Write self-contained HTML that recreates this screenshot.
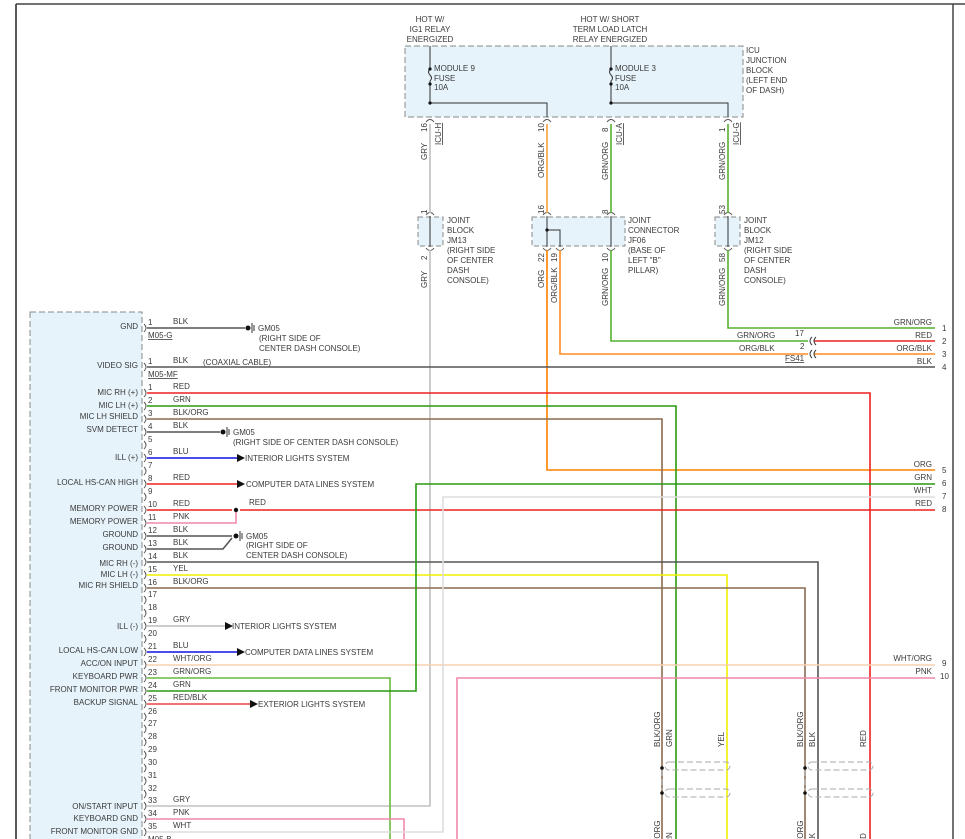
<!DOCTYPE html>
<html><head><meta charset="utf-8"><style>
html,body{margin:0;padding:0;background:#fff;}
svg{display:block;}
text{font-family:"Liberation Sans",sans-serif;font-size:8px;fill:#3a3a3a;}
.r{text-anchor:end;}
.m{text-anchor:middle;}
.w{fill:none;stroke-width:1.6;}
</style></head><body>
<svg width="965" height="839" viewBox="0 0 965 839" xmlns="http://www.w3.org/2000/svg">
<line x1="16" y1="4" x2="16" y2="839" stroke="#222" stroke-width="1.5"/>
<line x1="16" y1="4" x2="965" y2="4" stroke="#444" stroke-width="1.5"/>
<line x1="953" y1="4" x2="953" y2="839" stroke="#444" stroke-width="1.5"/>

<rect x="405" y="46" width="338" height="71" fill="#e6f3fb" stroke="#888" stroke-dasharray="6,3"/>
<text class="m" x="430" y="22">HOT W/</text>
<text class="m" x="430" y="32">IG1 RELAY</text>
<text class="m" x="430" y="42">ENERGIZED</text>
<text class="m" x="610" y="22">HOT W/ SHORT</text>
<text class="m" x="610" y="32">TERM LOAD LATCH</text>
<text class="m" x="610" y="42">RELAY ENERGIZED</text>
<text x="746" y="53">ICU</text><text x="746" y="63">JUNCTION</text><text x="746" y="73">BLOCK</text><text x="746" y="83">(LEFT END</text><text x="746" y="93">OF DASH)</text>
<g stroke="#333" fill="none" stroke-width="1">
<path d="M430,46 V69 q-3,3 0,6 q3,3 0,6 V103 H547 V117"/>
<path d="M611,46 V69 q-3,3 0,6 q3,3 0,6 V103 H728 V117"/>
</g>
<g fill="#111"><circle cx="430" cy="69" r="1.6"/><circle cx="430" cy="84" r="1.6"/><circle cx="430" cy="103" r="1.6"/><circle cx="611" cy="69" r="1.6"/><circle cx="611" cy="84" r="1.6"/><circle cx="611" cy="103" r="1.6"/></g>
<text x="434" y="71">MODULE 9</text><text x="434" y="81">FUSE</text><text x="434" y="90">10A</text>
<text x="615" y="71">MODULE 3</text><text x="615" y="81">FUSE</text><text x="615" y="90">10A</text>

<rect x="418" y="217" width="25" height="29" fill="#e6f3fb" stroke="#888" stroke-dasharray="5,3"/>
<rect x="532" y="217" width="93" height="29" fill="#e6f3fb" stroke="#888" stroke-dasharray="5,3"/>
<rect x="715" y="217" width="25" height="29" fill="#e6f3fb" stroke="#888" stroke-dasharray="5,3"/>
<g stroke="#333" fill="none" stroke-width="1">
<line x1="430" y1="216" x2="430" y2="247"/>
<line x1="547" y1="216" x2="547" y2="247"/>
<path d="M547,230 H560 V247"/>
<line x1="611" y1="216" x2="611" y2="247"/>
<line x1="728" y1="216" x2="728" y2="247"/>
</g>
<circle cx="547" cy="230" r="1.6" fill="#111"/>
<text x="447" y="223">JOINT</text><text x="447" y="233">BLOCK</text><text x="447" y="243">JM13</text><text x="447" y="253">(RIGHT SIDE</text><text x="447" y="263">OF CENTER</text><text x="447" y="273">DASH</text><text x="447" y="283">CONSOLE)</text>
<text x="628" y="223">JOINT</text><text x="628" y="233">CONNECTOR</text><text x="628" y="243">JF06</text><text x="628" y="253">(BASE OF</text><text x="628" y="263">LEFT "B"</text><text x="628" y="273">PILLAR)</text>
<text x="744" y="223">JOINT</text><text x="744" y="233">BLOCK</text><text x="744" y="243">JM12</text><text x="744" y="253">(RIGHT SIDE</text><text x="744" y="263">OF CENTER</text><text x="744" y="273">DASH</text><text x="744" y="283">CONSOLE)</text>

<g stroke="#555" fill="none" stroke-width="1">
<path d="M426,122 q4,-5 8,0"/><path d="M543,122 q4,-5 8,0"/><path d="M607,122 q4,-5 8,0"/><path d="M724,122 q4,-5 8,0"/>
<path d="M426,215 q4,-5 8,0"/><path d="M543,215 q4,-5 8,0"/><path d="M607,215 q4,-5 8,0"/><path d="M724,215 q4,-5 8,0"/>
<path d="M426,248 q4,5 8,0"/><path d="M543,248 q4,5 8,0"/><path d="M556,248 q4,5 8,0"/><path d="M607,248 q4,5 8,0"/><path d="M724,248 q4,5 8,0"/>
</g>
<g>
<text transform="translate(427,132) rotate(-90)">16</text>
<text transform="translate(441,145) rotate(-90)" style="text-decoration:underline">ICU-H</text>
<text transform="translate(427,160) rotate(-90)">GRY</text>
<text transform="translate(544,132) rotate(-90)">10</text>
<text transform="translate(544,178) rotate(-90)">ORG/BLK</text>
<text transform="translate(608,132) rotate(-90)">8</text>
<text transform="translate(622,145) rotate(-90)" style="text-decoration:underline">ICU-A</text>
<text transform="translate(608,180) rotate(-90)">GRN/ORG</text>
<text transform="translate(725,132) rotate(-90)">1</text>
<text transform="translate(739,145) rotate(-90)" style="text-decoration:underline">ICU-G</text>
<text transform="translate(725,180) rotate(-90)">GRN/ORG</text>
<text transform="translate(427,214) rotate(-90)">1</text>
<text transform="translate(544,214) rotate(-90)">16</text>
<text transform="translate(608,214) rotate(-90)">8</text>
<text transform="translate(725,214) rotate(-90)">53</text>
<text transform="translate(427,260) rotate(-90)">2</text>
<text transform="translate(427,288) rotate(-90)">GRY</text>
<text transform="translate(544,262) rotate(-90)">22</text>
<text transform="translate(544,288) rotate(-90)">ORG</text>
<text transform="translate(557,262) rotate(-90)">19</text>
<text transform="translate(557,303) rotate(-90)">ORG/BLK</text>
<text transform="translate(608,262) rotate(-90)">10</text>
<text transform="translate(608,306) rotate(-90)">GRN/ORG</text>
<text transform="translate(725,262) rotate(-90)">58</text>
<text transform="translate(725,306) rotate(-90)">GRN/ORG</text>
</g>

<rect x="30" y="312" width="112" height="530" fill="#e6f3fb" stroke="#888" stroke-dasharray="6,3"/>

<g class="w">
<path d="M430,124 V213 M430,250 V806 H147" stroke="#c0c0c0"/>
<path d="M547,124 V213" stroke="#f5a040" />
<path d="M547,250 V470 H935" stroke="#ff8000"/>
<path d="M560,250 V354 H808" stroke="#ff8c20"/>
<path d="M611,124 V213 M611,250 V341 H808" stroke="#55b030"/>
<path d="M728,124 V213 M728,250 V328 H935" stroke="#55b030"/>
<path d="M814,341 H935" stroke="#ee2020"/>
<path d="M814,354 H935" stroke="#ff8c20"/>
<path d="M147,367 H935" stroke="#555"/>
<path d="M147,328 H245" stroke="#555"/>
<path d="M147,393 H870 V839" stroke="#ee2020"/>
<path d="M147,406 H676 V839" stroke="#2a9a10"/>
<path d="M147,419 H662 V839" stroke="#8a6a50"/>
<path d="M147,432 H220" stroke="#555"/>
<path d="M147,458 H237" stroke="#1010e0"/>
<path d="M147,484 H237" stroke="#ee2020"/>
<path d="M147,510 H232 M240,510 H935" stroke="#ee2020"/>
<path d="M147,523 H236 V512" stroke="#f088a8"/>
<path d="M147,536 H232" stroke="#555"/>
<path d="M147,549 H223 L232,538" stroke="#555"/>
<path d="M147,562 H818 V839" stroke="#555"/>
<path d="M147,575 H727 V839" stroke="#f0f000"/>
<path d="M147,588 H805 V839" stroke="#8a6a50"/>
<path d="M147,626 H225" stroke="#bbb"/>
<path d="M147,652 H237" stroke="#1010e0"/>
<path d="M147,665 H935" stroke="#f5d0b0"/>
<path d="M147,678 H390 V839" stroke="#6ab840"/>
<path d="M147,691 H416 V484 H935" stroke="#2a9a10"/>
<path d="M147,704 H250" stroke="#ee4040"/>
<path d="M147,819 H404 V839" stroke="#f088a8"/>
<path d="M147,832 H443 V497 H935" stroke="#ddd"/>
<path d="M935,678 H457 V839" stroke="#f088a8"/>
</g>
<g fill="#111">
<path d="M237,454 l8,4 l-8,4z"/><path d="M237,480 l8,4 l-8,4z"/><path d="M225,622 l8,4 l-8,4z"/><path d="M237,648 l8,4 l-8,4z"/><path d="M250,700 l8,4 l-8,4z"/>
<circle cx="236" cy="510" r="2.2"/>
<circle cx="248" cy="328" r="2.5"/><circle cx="223" cy="432" r="2.5"/><circle cx="236" cy="536" r="2.5"/>
<circle cx="662" cy="768" r="1.8"/><circle cx="662" cy="793" r="1.8"/><circle cx="805" cy="768" r="1.8"/><circle cx="805" cy="793" r="1.8"/>
</g>
<g stroke="#333" fill="none">
<path d="M252,323 v10 M254,325 v6"/><path d="M227,427 v10 M229,429 v6"/><path d="M240,531 v10 M242,533 v6"/>
<path d="M812,337 q-4,4 0,8 M816,337 q-4,4 0,8 M812,350 q-4,4 0,8 M816,350 q-4,4 0,8"/>
</g>
<g stroke="#aaa" fill="none" stroke-dasharray="6,3">
<rect x="665" y="762" width="65" height="8" rx="4"/><rect x="665" y="789" width="65" height="8" rx="4"/>
<rect x="808" y="762" width="65" height="8" rx="4"/><rect x="808" y="789" width="65" height="8" rx="4"/>
<line x1="662" y1="770" x2="662" y2="790"/><line x1="805" y1="770" x2="805" y2="790"/>
</g>
<text transform="translate(660,747) rotate(-90)">BLK/ORG</text>
<text transform="translate(672,747) rotate(-90)">GRN</text>
<text transform="translate(724,747) rotate(-90)">YEL</text>
<text transform="translate(803,747) rotate(-90)">BLK/ORG</text>
<text transform="translate(815,747) rotate(-90)">BLK</text>
<text transform="translate(866,747) rotate(-90)">RED</text>
<text transform="translate(660,856) rotate(-90)">BLK/ORG</text>
<text transform="translate(672,850) rotate(-90)">GRN</text>
<text transform="translate(803,856) rotate(-90)">BLK/ORG</text>
<text transform="translate(815,848) rotate(-90)">BLK</text>
<text transform="translate(866,850) rotate(-90)">RED</text>

<text x="258" y="331">GM05</text><text x="259" y="341">(RIGHT SIDE OF</text><text x="259" y="351">CENTER DASH CONSOLE)</text>
<text x="233" y="435">GM05</text><text x="233" y="445">(RIGHT SIDE OF CENTER DASH CONSOLE)</text>
<text x="246" y="539">GM05</text><text x="246" y="548">(RIGHT SIDE OF</text><text x="246" y="558">CENTER DASH CONSOLE)</text>
<text x="245" y="461">INTERIOR LIGHTS SYSTEM</text>
<text x="246" y="487">COMPUTER DATA LINES SYSTEM</text>
<text x="232" y="629">INTERIOR LIGHTS SYSTEM</text>
<text x="245" y="655">COMPUTER DATA LINES SYSTEM</text>
<text x="258" y="707">EXTERIOR LIGHTS SYSTEM</text>
<text x="249" y="505">RED</text>
<text x="203" y="365">(COAXIAL CABLE)</text>
<text x="148" y="338" style="text-decoration:underline">M05-G</text>
<text x="148" y="377" style="text-decoration:underline">M05-MF</text>
<text x="148" y="842" style="text-decoration:underline">M05-B</text>
<text x="785" y="361" style="text-decoration:underline">FS41</text>
<text x="795" y="336">17</text><text x="800" y="349">2</text>
<text x="737" y="338">GRN/ORG</text><text x="739" y="351">ORG/BLK</text>

<text class="r" x="932" y="325">GRN/ORG</text><text class="r" x="932" y="338">RED</text><text class="r" x="932" y="351">ORG/BLK</text><text class="r" x="932" y="364">BLK</text>
<text class="r" x="932" y="467">ORG</text><text class="r" x="932" y="480">GRN</text><text class="r" x="932" y="493">WHT</text><text class="r" x="932" y="506">RED</text>
<text class="r" x="932" y="661">WHT/ORG</text><text class="r" x="932" y="674">PNK</text>
<text x="942" y="331">1</text><text x="942" y="344">2</text><text x="942" y="357">3</text><text x="942" y="370">4</text>
<text x="942" y="473">5</text><text x="942" y="486">6</text><text x="942" y="499">7</text><text x="942" y="512">8</text>
<text x="942" y="666">9</text><text x="940" y="679">10</text>

<text class="r" x="138" y="329">GND</text><text class="r" x="138" y="368">VIDEO SIG</text>
<text class="r" x="138" y="395">MIC RH (+)</text><text class="r" x="138" y="408">MIC LH (+)</text><text class="r" x="138" y="419">MIC LH SHIELD</text>
<text class="r" x="138" y="432">SVM DETECT</text><text class="r" x="138" y="460">ILL (+)</text><text class="r" x="138" y="485">LOCAL HS-CAN HIGH</text>
<text class="r" x="138" y="511">MEMORY POWER</text><text class="r" x="138" y="524">MEMORY POWER</text><text class="r" x="138" y="537">GROUND</text><text class="r" x="138" y="550">GROUND</text>
<text class="r" x="138" y="566">MIC RH (-)</text><text class="r" x="138" y="577">MIC LH (-)</text><text class="r" x="138" y="588">MIC RH SHIELD</text>
<text class="r" x="138" y="629">ILL (-)</text><text class="r" x="138" y="653">LOCAL HS-CAN LOW</text><text class="r" x="138" y="666">ACC/ON INPUT</text>
<text class="r" x="138" y="679">KEYBOARD PWR</text><text class="r" x="138" y="692">FRONT MONITOR PWR</text><text class="r" x="138" y="705">BACKUP SIGNAL</text>
<text class="r" x="138" y="809">ON/START INPUT</text><text class="r" x="138" y="821">KEYBOARD GND</text><text class="r" x="138" y="834">FRONT MONITOR GND</text>

<g>
<text x="148" y="325">1</text><text x="173" y="324">BLK</text>
<text x="148" y="364">1</text><text x="173" y="363">BLK</text>
<text x="148" y="390">1</text><text x="173" y="389">RED</text>
<text x="148" y="403">2</text><text x="173" y="402">GRN</text>
<text x="148" y="416">3</text><text x="173" y="415">BLK/ORG</text>
<text x="148" y="429">4</text><text x="173" y="428">BLK</text>
<text x="148" y="442">5</text>
<text x="148" y="455">6</text><text x="173" y="454">BLU</text>
<text x="148" y="468">7</text>
<text x="148" y="481">8</text><text x="173" y="480">RED</text>
<text x="148" y="494">9</text>
<text x="148" y="507">10</text><text x="173" y="506">RED</text>
<text x="148" y="520">11</text><text x="173" y="519">PNK</text>
<text x="148" y="533">12</text><text x="173" y="532">BLK</text>
<text x="148" y="546">13</text><text x="173" y="545">BLK</text>
<text x="148" y="559">14</text><text x="173" y="558">BLK</text>
<text x="148" y="572">15</text><text x="173" y="571">YEL</text>
<text x="148" y="585">16</text><text x="173" y="584">BLK/ORG</text>
<text x="148" y="597">17</text><text x="148" y="610">18</text>
<text x="148" y="623">19</text><text x="173" y="622">GRY</text>
<text x="148" y="636">20</text>
<text x="148" y="649">21</text><text x="173" y="648">BLU</text>
<text x="148" y="662">22</text><text x="173" y="661">WHT/ORG</text>
<text x="148" y="675">23</text><text x="173" y="674">GRN/ORG</text>
<text x="148" y="688">24</text><text x="173" y="687">GRN</text>
<text x="148" y="701">25</text><text x="173" y="700">RED/BLK</text>
<text x="148" y="714">26</text><text x="148" y="726">27</text><text x="148" y="739">28</text><text x="148" y="752">29</text>
<text x="148" y="765">30</text><text x="148" y="778">31</text><text x="148" y="791">32</text>
<text x="148" y="803">33</text><text x="173" y="802">GRY</text>
<text x="148" y="816">34</text><text x="173" y="815">PNK</text>
<text x="148" y="829">35</text><text x="173" y="828">WHT</text>
</g>
<g stroke="#555" fill="none" stroke-width="0.9">
<path d="M144,324 q4,4 0,8 M144,363 q4,4 0,8"/>
<path d="M144,389 q4,4 0,8 M144,402 q4,4 0,8 M144,415 q4,4 0,8 M144,428 q4,4 0,8 M144,441 q4,4 0,8 M144,454 q4,4 0,8 M144,467 q4,4 0,8 M144,480 q4,4 0,8 M144,493 q4,4 0,8 M144,506 q4,4 0,8 M144,519 q4,4 0,8 M144,532 q4,4 0,8 M144,545 q4,4 0,8 M144,558 q4,4 0,8 M144,571 q4,4 0,8 M144,584 q4,4 0,8 M144,596 q4,4 0,8 M144,609 q4,4 0,8 M144,622 q4,4 0,8 M144,635 q4,4 0,8 M144,648 q4,4 0,8 M144,661 q4,4 0,8 M144,674 q4,4 0,8 M144,687 q4,4 0,8 M144,700 q4,4 0,8 M144,713 q4,4 0,8 M144,725 q4,4 0,8 M144,738 q4,4 0,8 M144,751 q4,4 0,8 M144,764 q4,4 0,8 M144,777 q4,4 0,8 M144,790 q4,4 0,8 M144,802 q4,4 0,8 M144,815 q4,4 0,8 M144,828 q4,4 0,8"/>
</g>
</svg>
</body></html>
